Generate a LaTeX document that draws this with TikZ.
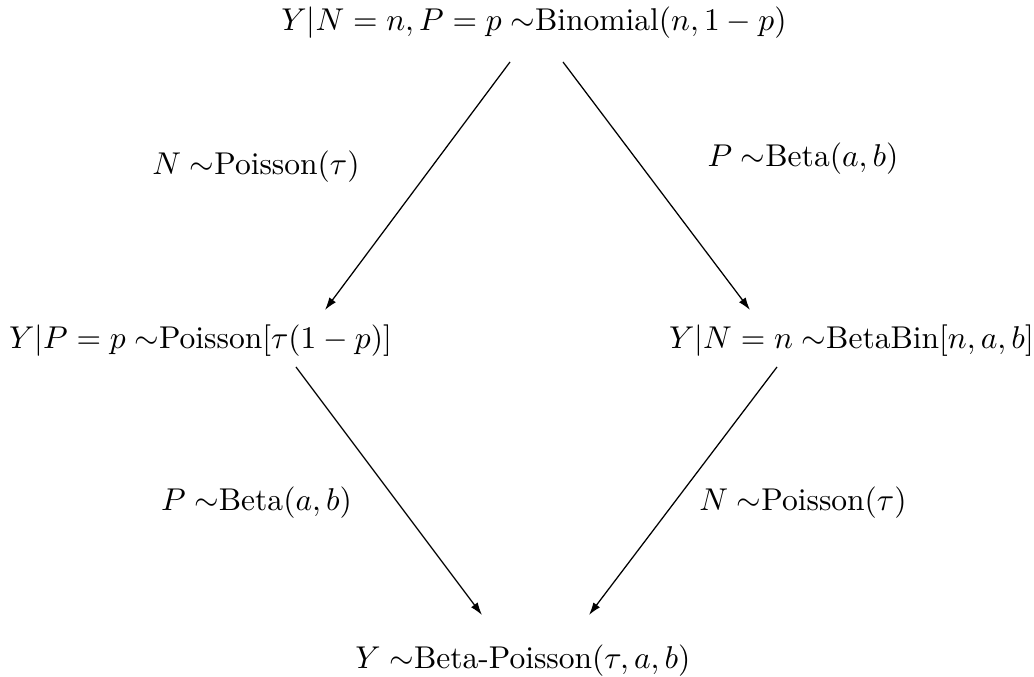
\documentclass[tikz,border=0pt]{standalone}
\usetikzlibrary{arrows.meta}
\begin{document}
\begin{tikzpicture}[x=0.3172pt,y=-0.3172pt,
  lbl/.style={inner sep=0pt, anchor=center},
  conn/.style={-{Latex[length=4pt,width=2.6pt]}, line width=0.4pt}]
\useasboundingbox (0,0) rectangle (1034,677);
\node[lbl] (top) at (534,22.5) {$Y|N=n,P=p \sim$Binomial$(n,1-p)$};
\node[lbl] (left) at (200.5,341) {$Y|P=p \sim$Poisson$[\tau(1-p)]$};
\node[lbl] (right) at (851.5,341) {$Y|N=n \sim$BetaBin$[n,a,b]$};
\node[lbl] (bot) at (523,661) {$Y \sim$Beta-Poisson$(\tau,a,b)$};
\node[lbl] (l1) at (256,167) {$N \sim$Poisson$(\tau)$};
\node[lbl] (l2) at (803,159) {$P \sim$Beta$(a,b)$};
\node[lbl] (l3) at (256.5,503) {$P \sim$Beta$(a,b)$};
\node[lbl] (l4) at (803,503) {$N \sim$Poisson$(\tau)$};
\coordinate (a1) at (510,62);
\coordinate (b1) at (325,310);
\coordinate (a2) at (563,62);
\coordinate (b2) at (750,310);
\coordinate (a3) at (296,367);
\coordinate (b3) at (482,615);
\coordinate (a4) at (777,367);
\coordinate (b4) at (589,615);
\draw[conn] (a1) -- (b1);
\draw[conn] (a2) -- (b2);
\draw[conn] (a3) -- (b3);
\draw[conn] (a4) -- (b4);
\end{tikzpicture}
\end{document}
